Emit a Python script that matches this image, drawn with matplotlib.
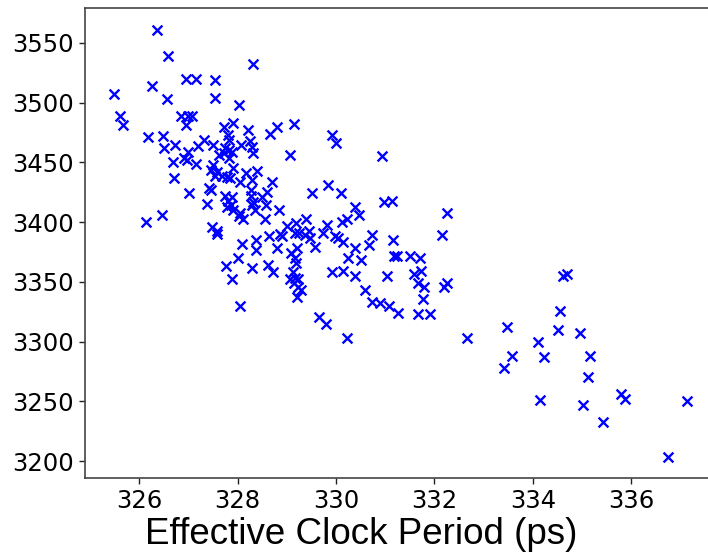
import matplotlib
matplotlib.use("Agg")
import matplotlib.pyplot as plt

# Effective clock period (ps)
period = [
    326.37, 326.59, 328.32, 326.26, 326.96, 327.16, 327.54, 325.49, 326.57, 327.54,
    328.03, 325.61, 325.67, 326.85, 327.00, 327.08, 326.96, 327.73, 327.91, 328.22,
    328.80, 328.66, 329.15, 326.18, 326.49, 327.81, 327.32, 327.83, 328.26, 329.92,
    330.00, 330.94,
    327.50, 327.20, 326.51, 326.73, 328.07, 328.30, 327.00, 326.91, 326.98, 327.75,
    327.83, 327.89, 327.63, 327.73, 327.83, 328.32, 329.07, 326.69, 327.16, 327.50,
    327.46, 327.59, 327.69, 327.54, 327.91, 328.40, 328.17, 328.30, 327.79, 327.85,
    328.05, 328.70, 326.71, 327.02, 327.42, 327.46, 327.75, 327.89, 328.28, 328.28,
    328.60, 328.50, 329.84, 329.52, 330.11,
    327.38, 327.81, 327.87, 327.91, 327.79, 328.05, 328.11, 328.03, 328.32, 328.30,
    328.36, 328.58, 328.56, 328.85, 327.48, 327.59, 327.59, 326.14, 326.47, 329.01,
    329.19, 329.17, 329.25, 328.87, 328.91, 329.37, 329.39, 329.46, 329.48, 329.82,
    329.74, 330.13, 330.23, 329.98, 330.04, 330.15, 330.39, 330.47, 330.98, 331.14,
    332.26, 332.16, 328.64, 328.38, 328.09, 330.74, 331.16,
    328.38, 328.80, 329.21, 329.58, 330.39, 330.67, 329.09, 329.17, 329.19, 328.01,
    327.77, 328.30, 328.62, 328.72, 327.89, 329.13, 329.07, 329.17, 329.23, 329.15,
    329.23, 329.29, 329.21, 331.18, 331.24, 331.51, 331.71, 330.25, 330.51, 329.92,
    330.15, 330.39, 331.04, 331.59, 331.73, 331.67, 331.79, 331.77, 332.20, 332.26,
    330.59,
    330.74, 330.90, 331.08, 331.26, 331.67, 331.91, 329.66, 329.80, 328.05, 330.23,
    332.67, 333.48, 333.58, 333.42, 334.11, 334.23, 334.50, 334.56, 334.62, 334.70,
    334.96, 335.17, 335.11, 334.15, 335.02, 335.43, 335.78, 335.88, 337.14, 336.75,
]

# Second metric (y values)
metric = [
    3561, 3539, 3532, 3514, 3520, 3520, 3519, 3507, 3503, 3504,
    3498, 3489, 3481, 3489, 3489, 3489, 3481, 3480, 3483, 3477,
    3480, 3474, 3482, 3471, 3472, 3473, 3469, 3469, 3468, 3473,
    3466, 3455,
    3465, 3464, 3462, 3465, 3465, 3463, 3459, 3454, 3452, 3462,
    3460, 3459, 3456, 3458, 3454, 3458, 3456, 3450, 3449, 3448,
    3444, 3442, 3439, 3439, 3445, 3443, 3441, 3435, 3438, 3437,
    3434, 3434, 3437, 3424, 3429, 3427, 3422, 3421, 3427, 3422,
    3425, 3421, 3431, 3424, 3424,
    3415, 3418, 3414, 3410, 3413, 3408, 3403, 3405, 3417, 3414,
    3410, 3414, 3403, 3410, 3396, 3393, 3390, 3400, 3406, 3397,
    3399, 3391, 3391, 3390, 3388, 3389, 3403, 3393, 3387, 3398,
    3391, 3400, 3403, 3388, 3387, 3383, 3413, 3406, 3417, 3418,
    3408, 3389, 3388, 3385, 3382, 3389, 3385,
    3377, 3378, 3378, 3379, 3378, 3381, 3374, 3370, 3366, 3370,
    3363, 3362, 3364, 3358, 3352, 3358, 3352, 3353, 3352, 3349,
    3346, 3343, 3337, 3372, 3372, 3372, 3370, 3370, 3368, 3358,
    3359, 3355, 3355, 3357, 3359, 3349, 3346, 3336, 3346, 3349,
    3343,
    3333, 3332, 3330, 3324, 3323, 3323, 3321, 3315, 3330, 3303,
    3303, 3312, 3288, 3278, 3300, 3287, 3310, 3326, 3355, 3357,
    3307, 3288, 3270, 3251, 3247, 3233, 3256, 3252, 3250, 3203,
]

xticks = [326, 328, 330, 332, 334, 336]
yticks = [3200, 3250, 3300, 3350, 3400, 3450, 3500, 3550]
xlabel = "Effective Clock Period (ps)"

fig = plt.figure(figsize=(7.08, 5.53), dpi=100)
ax = fig.add_axes([85 / 708, 1 - 478 / 553, 630 / 708, 470 / 553])

ax.scatter(period, metric, marker="x", color="#0000ff", s=50, linewidths=1.7)

ax.set_xlim(324.9, 337.7)
ax.set_ylim(3185.8, 3579.3)
ax.set_xticks(xticks)
ax.set_yticks(yticks)
ax.tick_params(labelsize=17.5, length=4, width=1, pad=4,
               colors="#222222", labelcolor="black")
for s in ax.spines.values():
    s.set_color("#444444")
    s.set_linewidth(1.2)

ax.set_xlabel(xlabel, fontsize=26.5, family=["Liberation Sans", "DejaVu Sans"])
ax.xaxis.set_label_coords(0.439, -0.082)

fig.savefig("out.png", dpi=100)
